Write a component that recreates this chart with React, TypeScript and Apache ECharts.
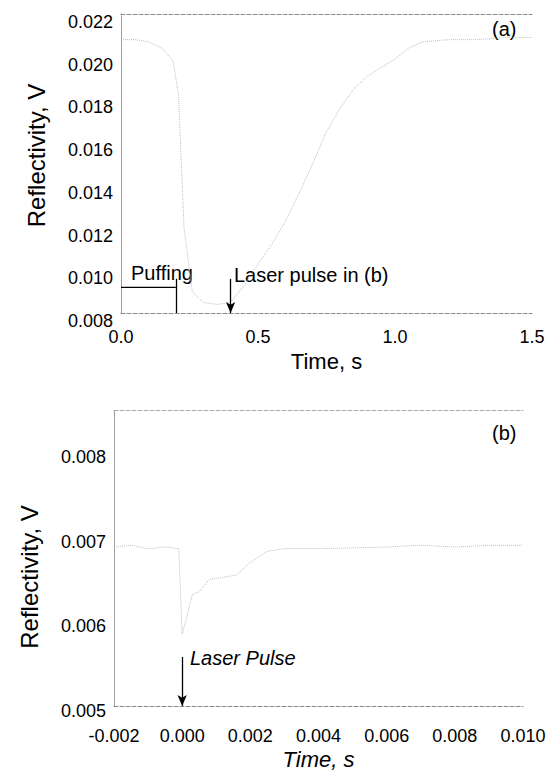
import React, { useEffect, useRef } from "react";
import * as echarts from "echarts";

// ---- Panel (a): reflectivity over the whole puff ----
const timeA = [0, 0.05, 0.1, 0.15, 0.19, 0.21, 0.23, 0.26, 0.3, 0.35, 0.4, 0.45, 0.5, 0.55, 0.6, 0.65, 0.7, 0.75, 0.8, 0.85, 0.9, 0.95, 1.0, 1.05, 1.1, 1.2, 1.3, 1.4, 1.5];
const reflA = [0.0208, 0.0208, 0.0207, 0.0204, 0.0198, 0.0182, 0.012, 0.009, 0.0085, 0.0084, 0.0085, 0.0093, 0.0103, 0.0112, 0.0123, 0.0136, 0.015, 0.0165, 0.0176, 0.0185, 0.0191, 0.0195, 0.0199, 0.0204, 0.0207, 0.0208, 0.0208, 0.0209, 0.0209];
const xTicksA = [0, 0.5, 1.0, 1.5];
const yTicksA = [0.008, 0.010, 0.012, 0.014, 0.016, 0.018, 0.020, 0.022];
const puffStart = 0;
const puffEnd = 0.2;
const puffLevel = 0.0092;
const laserTimeA = 0.4;

// ---- Panel (b): around the laser pulse ----
const timeB = [-0.002, -0.0015, -0.001, -0.0005, -0.0001, 0, 0.0001, 0.0003, 0.0005, 0.0008, 0.0012, 0.0016, 0.002, 0.0025, 0.003, 0.004, 0.005, 0.006, 0.007, 0.008, 0.009, 0.01];
const reflB = [0.00688, 0.0069, 0.00686, 0.00688, 0.00686, 0.00585, 0.006, 0.00632, 0.00635, 0.0065, 0.00652, 0.00655, 0.0067, 0.00683, 0.00686, 0.00686, 0.00687, 0.00688, 0.0069, 0.00688, 0.0069, 0.0069];
const xTicksB = [-0.002, 0, 0.002, 0.004, 0.006, 0.008, 0.01];
const yTicksB = [0.005, 0.006, 0.007, 0.008];
const laserTimeB = 0;

const FONT = "Liberation Sans, Arial, Helvetica, sans-serif";
const frameGray = "#8a8a8a";

export default function App() {
  const ref = useRef<HTMLDivElement>(null);
  useEffect(() => {
    if (!ref.current) return;
    const chart = echarts.init(ref.current, null, { renderer: "svg" });
    const clean = (v: number) => (Math.abs(v) < 1e-9 ? 0 : v);
    const fmt3 = (v: number) => clean(v).toFixed(3);
    const fmt1 = (v: number) => clean(v).toFixed(1);
    const fmtY = (v: number) => `{s|${clean(v).toFixed(3)}}`;
    const dataA = timeA.map((t, i) => [t, reflA[i]]);
    const dataB = timeB.map((t, i) => [t, reflB[i]]);
    const xMinA = xTicksA[0], xMaxA = xTicksA[xTicksA.length - 1];
    const yMinA = yTicksA[0], yMaxA = yTicksA[yTicksA.length - 1];
    const xMinB = xTicksB[0], xMaxB = xTicksB[xTicksB.length - 1];
    const yMinB = yTicksB[0];

    const yLabel = (shift: number) => ({
      fontSize: 18, fontFamily: FONT, color: "#000", margin: 8, formatter: fmtY,
      rich: { s: { fontSize: 18, fontFamily: FONT, color: "#000", padding: [shift * 2, 0, 0, 0] } },
    });

    const option: any = {
      animation: false,
      backgroundColor: "#ffffff",
      textStyle: { fontFamily: FONT, color: "#000" },
      grid: [
        { left: 121, top: 14, width: 411, height: 299 },
        { left: 114, top: 410, width: 409, height: 297 },
      ],
      xAxis: [
        {
          type: "value", gridIndex: 0, min: xMinA, max: xMaxA, interval: 0.5,
          name: "Time, s", nameLocation: "middle", nameGap: 37,
          nameTextStyle: { fontSize: 22, fontFamily: FONT, color: "#000" },
          axisLine: { show: true, onZero: false, lineStyle: { color: frameGray, type: "dashed", width: 1 } },
          axisTick: { show: false }, splitLine: { show: false },
          axisLabel: { fontSize: 18, fontFamily: FONT, color: "#000", margin: 15, formatter: fmt1 },
        },
        {
          type: "value", gridIndex: 0, position: "top", min: xMinA, max: xMaxA,
          axisLine: { show: true, onZero: false, lineStyle: { color: frameGray, type: "dashed", width: 1 } },
          axisTick: { show: false }, axisLabel: { show: false }, splitLine: { show: false },
        },
        {
          type: "value", gridIndex: 1, min: xMinB, max: xMaxB, interval: 0.002,
          name: "Time, s", nameLocation: "middle", nameGap: 42,
          nameTextStyle: { fontSize: 22, fontFamily: FONT, fontStyle: "italic", color: "#000" },
          axisLine: { show: true, onZero: false, lineStyle: { color: frameGray, type: "dashed", width: 1 } },
          axisTick: { show: false }, splitLine: { show: false },
          axisLabel: { fontSize: 18, fontFamily: FONT, color: "#000", margin: 21, formatter: fmt3 },
        },
        {
          type: "value", gridIndex: 1, position: "top", min: xMinB, max: xMaxB,
          axisLine: { show: true, onZero: false, lineStyle: { color: "#aaaaaa", type: "dashed", width: 1 } },
          axisTick: { show: false }, axisLabel: { show: false }, splitLine: { show: false },
        },
      ],
      yAxis: [
        {
          type: "value", gridIndex: 0, min: yMinA, max: yMaxA, interval: 0.002,
          name: "Reflectivity, V", nameLocation: "middle", nameGap: 73,
          nameTextStyle: { fontSize: 24, fontFamily: FONT, color: "#000", padding: [0, 0, 0, 16] },
          axisLine: { show: true, onZero: false, lineStyle: { color: frameGray, type: "dotted", width: 1 } },
          axisTick: { show: false }, splitLine: { show: false },
          axisLabel: yLabel(8),
        },
        {
          type: "value", gridIndex: 1, min: yMinB, max: 0.0085, interval: 0.001,
          name: "Reflectivity, V", nameLocation: "middle", nameGap: 73,
          nameTextStyle: { fontSize: 24, fontFamily: FONT, color: "#000", padding: [0, 38, 0, 0] },
          axisLine: { show: true, onZero: false, lineStyle: { color: frameGray, type: "dotted", width: 1 } },
          axisTick: { show: false }, splitLine: { show: false },
          axisLabel: { ...yLabel(5), showMaxLabel: false },
        },
      ],
      series: [
        {
          type: "line", xAxisIndex: 0, yAxisIndex: 0, data: dataA, showSymbol: false, smooth: false,
          lineStyle: { color: "#bdbdbd", width: 1, type: "dotted" },
        },
        {
          type: "line", xAxisIndex: 0, yAxisIndex: 0, showSymbol: false,
          data: [[puffStart, puffLevel], [puffEnd, puffLevel]],
          lineStyle: { color: "#000", width: 1.3 },
          markLine: {
            silent: true, symbol: ["none", "none"], label: { show: false },
            lineStyle: { color: "#000", width: 1.3, type: "solid" },
            data: [[{ coord: [puffEnd, 0.0096] }, { coord: [puffEnd, yMinA] }]],
          },
        },
        {
          type: "line", xAxisIndex: 0, yAxisIndex: 0, showSymbol: false, data: [],
          markLine: {
            silent: true, symbol: ["none", "arrow"], symbolSize: [7, 11], label: { show: false },
            lineStyle: { color: "#000", width: 1.3, type: "solid" },
            data: [[{ coord: [laserTimeA, 0.0096] }, { coord: [laserTimeA, yMinA] }]],
          },
        },
        {
          type: "line", xAxisIndex: 2, yAxisIndex: 1, data: dataB, showSymbol: false,
          lineStyle: { color: "#bdbdbd", width: 1, type: "dotted" },
          markLine: {
            silent: true, symbol: ["none", "arrow"], symbolSize: [7, 11], label: { show: false },
            lineStyle: { color: "#000", width: 1.3, type: "solid" },
            data: [[{ coord: [laserTimeB, 0.00558] }, { coord: [laserTimeB, yMinB] }]],
          },
        },
      ],
      graphic: [
        { type: "text", left: 492, top: 19, style: { text: "(a)", font: `20px ${FONT}`, fill: "#000" } },
        { type: "text", left: 131, top: 263, style: { text: "Puffing", font: `20px ${FONT}`, fill: "#000" } },
        { type: "text", left: 234, top: 265, style: { text: "Laser pulse in (b)", font: `20px ${FONT}`, fill: "#000" } },
        { type: "text", left: 492, top: 423, style: { text: "(b)", font: `20px ${FONT}`, fill: "#000" } },
        { type: "text", left: 190, top: 648, style: { text: "Laser Pulse", font: `italic 20px ${FONT}`, fill: "#000" } },
      ],
    };
    chart.setOption(option);
    return () => chart.dispose();
  }, []);
  return <div ref={ref} style={{ position: "absolute", left: 0, top: 0, width: 551, height: 771 }} />;
}
